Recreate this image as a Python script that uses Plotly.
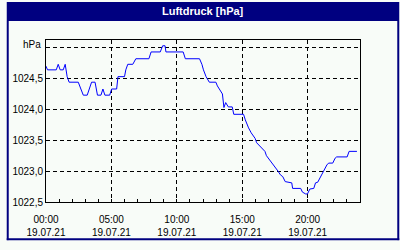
import plotly.graph_objects as go
import pandas as pd

# ---- data ----
times = ["00:00", "00:07", "00:47", "00:56", "01:05", "01:19", "01:28", "01:37", "01:46",
         "02:28", "02:40", "02:51", "03:09", "03:20", "03:29", "03:45", "03:56", "04:12",
         "04:21", "04:30", "04:52", "05:01", "05:24", "05:30", "06:00", "06:06", "06:15",
         "06:38", "06:52", "07:52", "08:02", "08:44", "08:55", "09:06", "09:10", "10:29",
         "10:39", "11:44", "11:55", "12:02", "12:14", "12:29", "12:59", "13:06", "13:17",
         "13:29", "13:36", "13:44", "13:56", "14:14", "14:21", "15:06", "15:14", "15:21",
         "15:29", "15:41", "15:59", "16:06", "16:21", "16:32", "16:44", "16:51", "17:06",
         "17:17", "17:26", "17:36", "17:44", "17:55", "18:06", "18:17", "18:47", "18:51",
         "19:28", "19:36", "19:51", "19:59", "20:06", "20:10", "20:28", "20:36", "20:46",
         "20:55", "21:01", "21:10", "21:21", "21:28", "21:36", "21:55", "22:06", "22:13",
         "23:01", "23:10", "23:46"]
pressure = [1024.70, 1024.64, 1024.64, 1024.73, 1024.64, 1024.64, 1024.73, 1024.53, 1024.44,
            1024.44, 1024.33, 1024.23, 1024.23, 1024.33, 1024.44, 1024.44, 1024.23, 1024.23,
            1024.33, 1024.23, 1024.23, 1024.33, 1024.33, 1024.53, 1024.53, 1024.64, 1024.73,
            1024.73, 1024.82, 1024.82, 1024.93, 1024.93, 1025.03, 1025.03, 1024.93, 1024.93,
            1024.82, 1024.82, 1024.73, 1024.64, 1024.53, 1024.44, 1024.44, 1024.38, 1024.32,
            1024.25, 1024.03, 1024.11, 1024.04, 1024.04, 1023.92, 1023.92, 1023.83, 1023.76,
            1023.70, 1023.62, 1023.53, 1023.46, 1023.41, 1023.36, 1023.32, 1023.25, 1023.18,
            1023.13, 1023.10, 1023.05, 1023.00, 1022.94, 1022.91, 1022.83, 1022.81, 1022.72,
            1022.72, 1022.66, 1022.63, 1022.63, 1022.68, 1022.71, 1022.72, 1022.81, 1022.82,
            1022.88, 1022.94, 1023.00, 1023.05, 1023.10, 1023.13, 1023.13, 1023.21, 1023.23,
            1023.23, 1023.32, 1023.32]

y_ticks = [1022.5, 1023.0, 1023.5, 1024.0, 1024.5, 1025.0]
y_labels = ["1022,5", "1023,0", "1023,5", "1024,0", "1024,5", ""]
x_tick_hours = ["00:00", "05:00", "10:00", "15:00", "20:00"]
date_label = "19.07.21"
title = "Luftdruck [hPa]"
unit = "hPa"

day = "2021-07-19"
x = pd.to_datetime([f"{day} {t}" for t in times])
x_ticks = pd.to_datetime([f"{day} {t}" for t in x_tick_hours])
x_ticktext = [f"{t}<br>{date_label}" for t in x_tick_hours]

BG = "#F8FCF8"
NAVY = "#000080"

fig = go.Figure()
fig.add_trace(go.Scatter(x=x, y=pressure, mode="lines",
                         line=dict(color="#0000FF", width=1), hoverinfo="skip"))

W, H = 400, 250
L, R, T, B = 40, 40, 40, 40
pw, ph = W - L - R, H - T - B

def px(xp):
    return (xp - L) / pw

def py(yp):
    return (H - B - yp) / ph

fig.update_layout(
    width=W, height=H,
    margin=dict(l=L, r=R, t=T, b=B, pad=0),
    paper_bgcolor=BG, plot_bgcolor=BG,
    showlegend=False,
    font=dict(family="Liberation Sans", size=10, color="black"),
    xaxis=dict(
        range=[pd.Timestamp(f"{day} 00:00"), pd.Timestamp(f"{day} 00:00") + pd.Timedelta(hours=24)],
        tickvals=x_ticks, ticktext=x_ticktext,
        showgrid=True, gridcolor="black", griddash="4px,3px", gridwidth=1,
        showline=True, linecolor="black", linewidth=1, mirror=True,
        ticks="inside", ticklen=3, tickcolor="black",
        minor=dict(dtick=3600000, ticks="inside", ticklen=3, tickcolor="black", showgrid=False),
        ticklabelstandoff=8,
        zeroline=False, fixedrange=True,
    ),
    yaxis=dict(
        range=[1022.5, 1025.0 + 8 / 64.8],
        tickvals=y_ticks, ticktext=y_labels,
        showgrid=True, gridcolor="black", griddash="4px,3px", gridwidth=1,
        showline=True, linecolor="black", linewidth=1, mirror=True,
        ticks="", zeroline=False, fixedrange=True,
    ),
    shapes=[
        dict(type="rect", xref="paper", yref="paper", x0=px(0), x1=px(W), y0=py(20), y1=py(0),
             fillcolor=NAVY, line=dict(width=0), layer="above"),
        dict(type="line", xref="paper", yref="paper", x0=px(1), x1=px(1), y0=py(250), y1=py(20),
             line=dict(color=NAVY, width=2)),
        dict(type="line", xref="paper", yref="paper", x0=px(399), x1=px(399), y0=py(250), y1=py(20),
             line=dict(color=NAVY, width=2)),
        dict(type="line", xref="paper", yref="paper", x0=px(0), x1=px(400), y0=py(249), y1=py(249),
             line=dict(color=NAVY, width=2)),
    ],
    annotations=[
        dict(text=f"<b>{title}</b>", xref="paper", yref="paper", x=0.5, y=py(10),
             xanchor="center", yanchor="middle", showarrow=False,
             font=dict(family="Liberation Sans", size=11, color="white")),
        dict(text=unit, xref="paper", yref="y", x=0, y=1025.0, yshift=3, xshift=-3,
             xanchor="right", yanchor="middle", showarrow=False,
             font=dict(family="Liberation Sans", size=10, color="black")),
    ],
)

fig.write_html("out.html", config={"displayModeBar": False})
